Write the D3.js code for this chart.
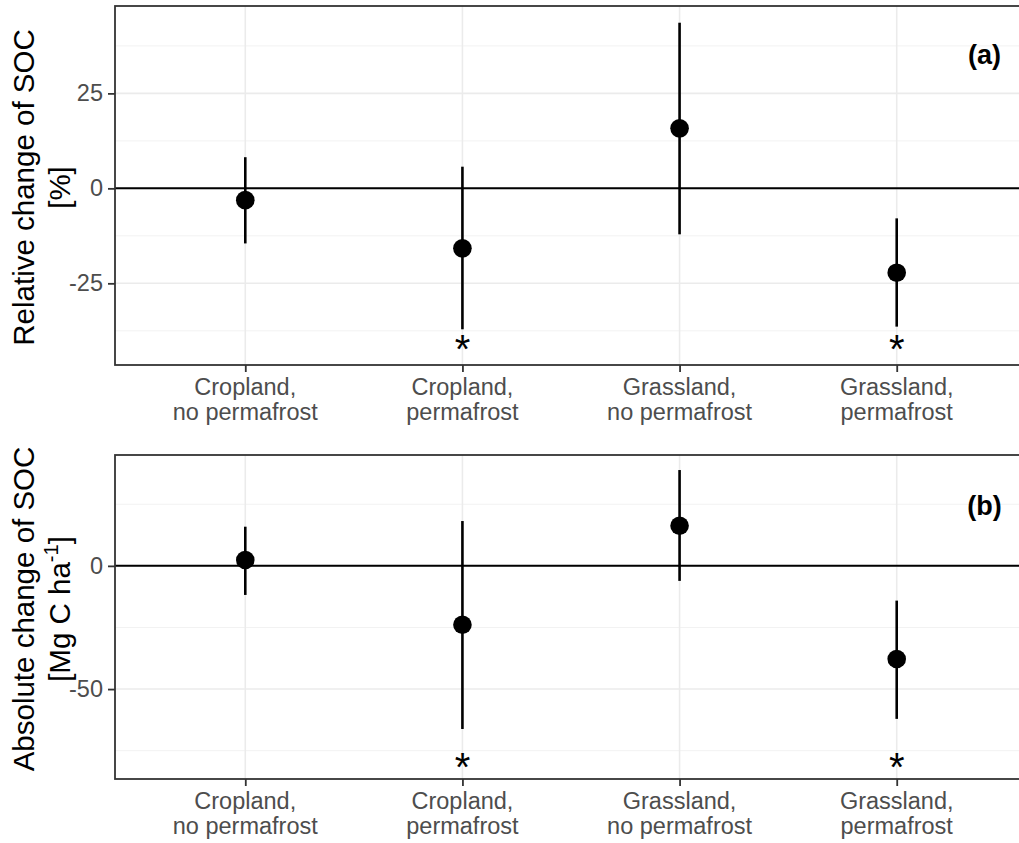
<!DOCTYPE html>
<html>
<head>
<meta charset="utf-8">
<script src="https://cdn.jsdelivr.net/npm/d3@7"></script>
<style>
  html, body { margin: 0; padding: 0; background: #fff; }
  svg { display: block; }
  text { font-family: "Liberation Sans", Arial, sans-serif; }
</style>
</head>
<body>
<svg id="chart" width="1019" height="843"></svg>
<script>
// ---- Data ----
const categories = ["Cropland, no permafrost", "Cropland, permafrost", "Grassland, no permafrost", "Grassland, permafrost"];
const categoryLines = [["Cropland,", "no permafrost"], ["Cropland,", "permafrost"], ["Grassland,", "no permafrost"], ["Grassland,", "permafrost"]];

const relMean = [-3.1, -15.8, 15.8, -22.2];
const relLow  = [-14.5, -37.1, -12.1, -36.4];
const relHigh = [8.2, 5.7, 43.6, -7.9];
const relSig  = [false, true, false, true];
const relSigY = -40.8;
const relTicks = [-25, 0, 25];
const relMinor = [-37.5, -12.5, 12.5, 37.5];

const absMean = [2.4, -23.9, 16.3, -37.8];
const absLow  = [-11.8, -66.2, -6.1, -62.1];
const absHigh = [15.9, 18.2, 38.9, -14.1];
const absSig  = [false, true, false, true];
const absSigY = -79;
const absTicks = [-50, 0];
const absMinor = [-75, -25, 25];

// ---- Layout ----
const svg = d3.select("#chart");
const left = 115, right = 1027;
const x = d3.scalePoint().domain(categories).range([left, right]).padding(0.6);

const panels = [
  { top: 6, bottom: 365, domain: [-46.5, 48], mean: relMean, low: relLow, high: relHigh, sig: relSig, sigY: relSigY,
    ticks: relTicks, minor: relMinor, tag: "(a)", tagY: 64, titleY: 187.5 },
  { top: 455, bottom: 779, domain: [-86.5, 45], mean: absMean, low: absLow, high: absHigh, sig: absSig, sigY: absSigY,
    ticks: absTicks, minor: absMinor, tag: "(b)", tagY: 515, titleY: 609 }
];

const grey = "#4D4D4D";
const tickFs = 23.5;

panels.forEach((p, pi) => {
  const y = d3.scaleLinear().domain(p.domain).range([p.bottom, p.top]);
  const g = svg.append("g");

  // minor grid
  g.selectAll(".minor").data(p.minor).join("line")
    .attr("x1", left).attr("x2", right)
    .attr("y1", d => y(d)).attr("y2", d => y(d))
    .attr("stroke", "#F2F2F2").attr("stroke-width", 1);
  // major grid horizontal
  g.selectAll(".major").data(p.ticks).join("line")
    .attr("x1", left).attr("x2", right)
    .attr("y1", d => y(d)).attr("y2", d => y(d))
    .attr("stroke", "#EBEBEB").attr("stroke-width", 1.6);
  // major grid vertical
  g.selectAll(".vmajor").data(categories).join("line")
    .attr("x1", d => x(d)).attr("x2", d => x(d))
    .attr("y1", p.top).attr("y2", p.bottom)
    .attr("stroke", "#EBEBEB").attr("stroke-width", 1.6);

  // zero line
  g.append("line")
    .attr("x1", left).attr("x2", right)
    .attr("y1", y(0)).attr("y2", y(0))
    .attr("stroke", "#000").attr("stroke-width", 2);

  // error bars
  g.selectAll(".err").data(categories).join("line")
    .attr("x1", d => x(d)).attr("x2", d => x(d))
    .attr("y1", (d, i) => y(p.low[i])).attr("y2", (d, i) => y(p.high[i]))
    .attr("stroke", "#000").attr("stroke-width", 2.6);

  // points
  g.selectAll(".pt").data(categories).join("circle")
    .attr("cx", d => x(d)).attr("cy", (d, i) => y(p.mean[i]))
    .attr("r", 9.3).attr("fill", "#000");

  // significance asterisks
  g.selectAll(".sig").data(categories.filter((d, i) => p.sig[i])).join("text")
    .attr("x", d => x(d)).attr("y", y(p.sigY) + 20)
    .attr("text-anchor", "middle")
    .attr("font-size", 40).attr("fill", "#000")
    .text("*");

  // panel border
  g.append("rect")
    .attr("x", left).attr("y", p.top)
    .attr("width", right - left).attr("height", p.bottom - p.top)
    .attr("fill", "none").attr("stroke", "#333").attr("stroke-width", 1.8);

  // y axis ticks + labels
  const yAxis = d3.axisLeft(y).tickValues(p.ticks).tickSize(7).tickPadding(5).tickFormat(d => String(d));
  const ya = g.append("g").attr("transform", `translate(${left},0)`).call(yAxis);
  ya.select(".domain").remove();
  ya.selectAll(".tick line").attr("stroke", "#333").attr("stroke-width", 1.8);
  ya.selectAll(".tick text").attr("fill", grey).attr("font-size", tickFs)
    .attr("font-family", "Liberation Sans, Arial, sans-serif");

  // x axis ticks + labels
  const xAxis = d3.axisBottom(x).tickSize(7).tickFormat("");
  const xa = g.append("g").attr("transform", `translate(0,${p.bottom})`).call(xAxis);
  xa.select(".domain").remove();
  xa.selectAll(".tick line").attr("stroke", "#333").attr("stroke-width", 1.8);
  categories.forEach((c, i) => {
    const t = g.append("text").attr("x", x(c)).attr("y", p.bottom + 30)
      .attr("text-anchor", "middle").attr("fill", grey).attr("font-size", tickFs);
    categoryLines[i].forEach((ln, k) => {
      t.append("tspan").attr("x", x(c)).attr("dy", k === 0 ? 0 : 25).text(ln);
    });
  });

  // panel tag
  g.append("text").attr("x", 984.5).attr("y", p.tagY)
    .attr("text-anchor", "middle").attr("font-size", 27).attr("font-weight", "bold")
    .attr("fill", "#000").text(p.tag);

  // y title
  const cy = p.titleY;
  const tt = g.append("text").attr("transform", `translate(34,${cy}) rotate(-90)`)
    .attr("text-anchor", "middle").attr("font-size", 29.5).attr("fill", "#000");
  if (pi === 0) {
    tt.append("tspan").attr("x", 0).attr("y", 0).text("Relative change of SOC");
    tt.append("tspan").attr("x", 0).attr("y", 36).text("[%]");
  } else {
    tt.append("tspan").attr("x", 0).attr("y", 0).text("Absolute change of SOC");
    const t2g = g.append("text").attr("transform", `translate(34,${cy}) rotate(-90)`)
      .attr("text-anchor", "middle").attr("font-size", 29.5).attr("fill", "#000").attr("y", 36);
    t2g.append("tspan").text("[Mg C ha");
    t2g.append("tspan").attr("font-size", 20).attr("dy", -12).text("-1");
    t2g.append("tspan").attr("dy", 12).text("]");
  }
});
</script>
</body>
</html>
